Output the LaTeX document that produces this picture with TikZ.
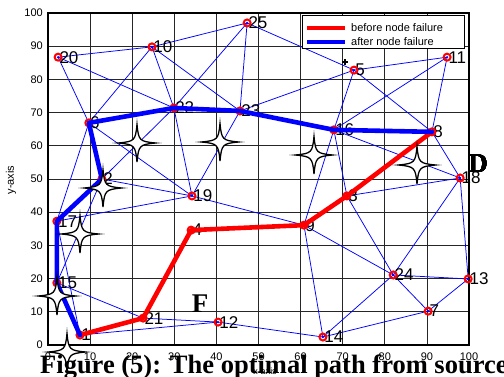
\documentclass[tikz,border=0pt]{standalone}
\usepackage{fontspec}
\setmainfont{Liberation Serif}
\setsansfont{Liberation Sans}
\newcommand\fourstar[1]{%
  \draw[starsty, shift={(#1)}] (0pt,18.5pt) .. controls (1.6pt,2.4pt) and (2.4pt,1.6pt) .. (18.5pt,0pt)
    .. controls (2.4pt,-1.6pt) and (1.6pt,-2.4pt) .. (0pt,-19pt)
    .. controls (-1.6pt,-2.4pt) and (-2.4pt,-1.6pt) .. (-18.5pt,0pt)
    .. controls (-2.4pt,1.6pt) and (-1.6pt,2.4pt) .. cycle;}
\begin{document}
\begin{tikzpicture}[x=1pt,y=1pt,
  thinedge/.style={draw=blue, line width=0.75pt},
  redpath/.style={draw=red, line width=4.6pt, line join=round, line cap=round},
  bluepath/.style={draw=blue, line width=4.6pt, line join=round, line cap=round},
  marker/.style={circle, draw=red, line width=2pt, minimum size=7pt, inner sep=0pt},
  dotm/.style={circle, fill=blue, minimum size=2.4pt, inner sep=0pt},
  nlab/.style={anchor=west, inner sep=0pt, font=\sffamily\fontsize{17}{17}\selectfont},
  ticklab/.style={inner sep=0pt, font=\sffamily\fontsize{11}{11}\selectfont},
  leglab/.style={anchor=west, inner sep=0pt, font=\sffamily\fontsize{11}{11}\selectfont},
  gridline/.style={draw=black!85, line width=0.7pt},
  starsty/.style={draw=black, fill=white, line width=1.3pt},
  bigletter/.style={font=\bfseries\fontsize{27}{27}\selectfont, inner sep=0pt}]
\useasboundingbox (0,0) rectangle (504,376);
\fill[white] (0,0) rectangle (504,376);
\begin{scope}[shift={(48,31)}, x=4.21pt, y=3.32pt]
  % grid
  \foreach \v in {10,20,...,90} {
    \draw[gridline] (\v,0) -- (\v,100);
    \draw[gridline] (0,\v) -- (100,\v);
  }
  \draw[line width=1.2pt] (0,0) rectangle (100,100);
  % tick labels
  \foreach \v in {0,10,...,100} {
    \node[ticklab, anchor=east] (yt\v) at (-1.2,\v) {\v};
    \node[ticklab] (xt\v) at (\v,-3.4) {\v};
  }
  % nodes
  \coordinate (n1) at (7.6,3.0);
  \coordinate (n2) at (12.8,50.0);
  \coordinate (n3) at (71.0,44.9);
  \coordinate (n4) at (34.0,34.6);
  \coordinate (n5) at (72.7,82.8);
  \coordinate (n6) at (9.7,66.9);
  \coordinate (n7) at (90.3,10.2);
  \coordinate (n8) at (91.2,64.2);
  \coordinate (n9) at (60.8,36.1);
  \coordinate (n10) at (24.7,89.8);
  \coordinate (n11) at (94.8,86.7);
  \coordinate (n12) at (40.4,6.9);
  \coordinate (n13) at (99.8,19.9);
  \coordinate (n14) at (65.3,2.4);
  \coordinate (n15) at (2.1,18.7);
  \coordinate (n16) at (67.9,64.8);
  \coordinate (n17) at (2.1,37.3);
  \coordinate (n18) at (97.9,50.3);
  \coordinate (n19) at (34.2,44.9);
  \coordinate (n20) at (2.4,86.7);
  \coordinate (n21) at (22.6,8.1);
  \coordinate (n22) at (29.9,71.4);
  \coordinate (n23) at (45.6,70.5);
  \coordinate (n24) at (82.0,21.1);
  \coordinate (n25) at (47.3,97.0);
  % thin edges
  \foreach \a/\b in {20/10,20/6,20/22,10/6,10/22,10/23,10/25,25/22,25/23,25/5,23/5,
      5/11,5/16,5/8,11/16,11/8,6/17,6/19,22/19,23/19,22/2,17/19,2/19,2/15,17/1,
      15/21,1/12,21/12,12/14,14/9,14/24,14/7,24/13,24/7,7/13,18/13,18/24,3/24,
      9/24,8/18,16/18,3/18,16/3,16/9,19/9,6/2,1/15,17/15,17/2,6/22,22/23,23/16,16/8,
      1/21,21/4,4/9,9/3,3/8}
    \draw[thinedge] (n\a) -- (n\b);
  % labels
  \foreach \i in {1,...,25}
    \node[nlab] (l\i) at ([xshift=1.2pt]n\i) {\i};
  % markers
  \foreach \i in {1,...,25} {
    \node[dotm] (d\i) at (n\i) {};
    \node[marker] (m\i) at (n\i) {};
  }
  % paths
  \draw[redpath] (n1) -- (n21) -- (n4) -- (n9) -- (n3) -- (n8);
  \draw[bluepath] (n1) -- (n15) -- (n17) -- (n2) -- (n6) -- (n22) -- (n23) -- (n16) -- (n8);
\end{scope}
% small plus near node 5
\coordinate (pl) at (345,314);
\draw[line width=1.2pt] ([xshift=-3pt]pl) -- ([xshift=3pt]pl);
\draw[line width=1.2pt] ([yshift=-3pt]pl) -- ([yshift=3pt]pl);
% legend
\node[draw=black, line width=0.6pt, fill=white, minimum width=162pt, minimum height=33pt, inner sep=0pt, anchor=north west] (leg) at (302,361) {};
\coordinate (ra) at (307,348); \coordinate (rb) at (345,348);
\coordinate (ba) at (307,334); \coordinate (bb) at (345,334);
\draw[red, line width=4pt] (ra) -- (rb);
\draw[blue, line width=4pt] (ba) -- (bb);
\node[leglab] (lt1) at (351,348) {before node failure};
\node[leglab] (lt2) at (351,334) {after node failure};
% axis labels
\node[ticklab, rotate=90] (ylab) at (11,196) {y-axis};
\node[inner sep=0pt, font=\sffamily\fontsize{9}{9}\selectfont] (xlab) at (265,5) {x-axis};
% stars
\coordinate (s1) at (137,233);
\coordinate (s2) at (220,234);
\coordinate (s3) at (314,221);
\coordinate (s4) at (417,211);
\coordinate (s5) at (103,188);
\coordinate (s6) at (80,142);
\coordinate (s7) at (57,80);
\coordinate (s8) at (67,24);
\foreach \s in {s1,s2,s3,s4,s5,s6,s7,s8} \fourstar{\s}
% letters
\node[bigletter] (D) at (478,212) {D};
\node[bigletter] (F) at (200,72) {F};
% caption
\node[anchor=base west, inner sep=0pt, font=\bfseries\fontsize{26.5}{26.5}\selectfont] (cap) at (40,3) {Figure (5): The optimal path from source};
\end{tikzpicture}
\end{document}
